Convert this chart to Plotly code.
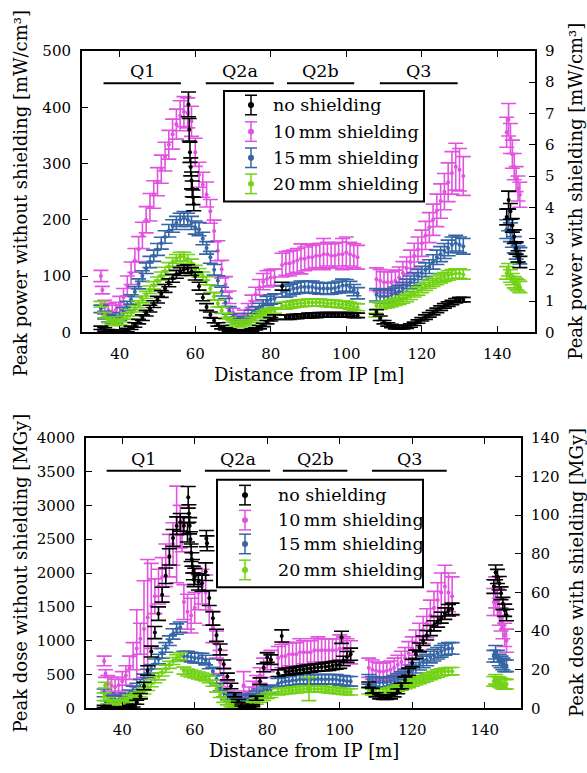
import plotly.graph_objects as go

# ---------------------------------------------------------------------------
# Sampling positions along the beam line (distance from IP in metres)
# ---------------------------------------------------------------------------
X_Q1 = [35, 36, 37, 38, 39, 40, 41, 42, 43, 44, 45, 46, 47, 48, 49, 50, 51, 52,
        53, 54, 55, 56, 57, 58, 59]
X_Q2A = [60, 61, 62, 63, 64, 65, 66, 67, 68, 69, 70, 71, 72, 73, 74, 75, 76, 77,
         78, 79, 80, 81]
X_Q2B = [83, 84, 85, 86, 87, 88, 89, 90, 91, 92, 93, 94, 95, 96, 97, 98, 99, 100,
         101, 102, 103]
X_Q3 = [108, 109, 110, 111, 112, 113, 114, 115, 116, 117, 118, 119, 120, 121, 122,
        123, 124, 125, 126, 127, 128, 129, 130, 131]
X_END = [142.5, 143, 143.5, 144, 144.5, 145, 145.5, 146]
X_ALL = X_Q1 + X_Q2A + X_Q2B + X_Q3 + X_END

SERIES_NAMES = ["no shielding", "10\u2009mm shielding", "15\u2009mm shielding",
                "20\u2009mm shielding"]
COLORS = ["#000000", "#e152df", "#3465a4", "#73d216"]

MAGNETS = ["Q1", "Q2a", "Q2b", "Q3"]
MAGNET_START = [35.7, 62.8, 84.3, 108.9]
MAGNET_END = [56.2, 80.8, 102.1, 129.5]

# ---------------------------------------------------------------------------
# Peak power density  (no shielding: mW/cm^3 on left axis, shielded: right axis)
# ---------------------------------------------------------------------------
POW_NONE = [8, 5, 3, 2, 1, 1, 2, 4, 8, 13, 19, 26, 34, 42, 50, 58, 68, 78, 88, 96,
            103, 108, 112, 113, 108,
            100, 82, 62, 45, 31, 21, 14, 9, 6, 4, 3, 2, 2, 2, 3, 4, 6, 9, 13, 18, 23, 27,
            82, 27, 27, 28, 28, 29, 29, 30, 30, 30, 31, 31, 31, 31, 31, 31, 31, 31, 31,
            30, 30,
            36, 25, 18, 14, 11, 9, 9, 9, 10, 12, 15, 19, 23, 27, 31, 35, 39, 43, 47, 50,
            53, 56, 58, 58,
            205, 235, 215, 190, 170, 150, 135, 125]
POW_NONE_ERR = [3, 3, 2, 2, 2, 2, 2, 3, 3, 4, 4, 5, 5, 6, 6, 6, 6, 7, 7, 7, 7, 7, 7, 7, 7,
                7, 7, 6, 6, 5, 4, 3, 3, 2, 2, 2, 2, 2, 2, 2, 2, 2, 3, 3, 3, 3, 4,
                7, 4, 4, 4, 4, 4, 4, 4, 4, 4, 4, 4, 4, 4, 4, 4, 4, 4, 4, 4, 4,
                4, 4, 3, 3, 3, 3, 3, 3, 3, 3, 3, 3, 3, 4, 4, 4, 4, 4, 4, 4, 4, 4, 4, 4,
                14, 16, 14, 12, 12, 11, 10, 10]
POW_NONE_XX = [58.2, 58.4, 58.6, 58.8, 59.0, 59.2, 59.4, 59.6]
POW_NONE_XY = [405, 360, 320, 294, 270, 255, 240, 228]
POW_NONE_XE = [22, 20, 18, 16, 15, 14, 13, 12]

POW_10 = [1.80, 0.80, 0.70, 0.65, 0.72, 0.90, 1.12, 1.48, 1.89, 2.30, 2.66, 3.10, 3.60,
          4.00, 4.41, 4.82, 5.22, 5.62, 6.00, 6.34, 6.66, 6.93, 7.06, 7.02, 6.75,
          5.76, 5.04, 4.72, 4.41, 3.87, 3.24, 2.61, 2.02, 1.53, 1.12, 0.63, 0.49, 0.43,
          0.58, 0.76, 0.99, 1.22, 1.44, 1.62, 1.71, 1.75, 1.76,
          2.15, 2.20, 2.20, 2.25, 2.30, 2.35, 2.35, 2.40, 2.40, 2.45, 2.45, 2.50, 2.50,
          2.45, 2.45, 2.50, 2.50, 2.55, 2.50, 2.45, 2.40,
          1.70, 1.65, 1.60, 1.60, 1.60, 1.65, 1.75, 1.90, 2.05, 2.25, 2.45, 2.65, 2.85,
          3.10, 3.35, 3.60, 3.90, 4.20, 4.50, 4.80, 5.10, 5.30, 5.20, 5.00,
          6.40, 6.80, 6.20, 5.70, 5.30, 4.90, 4.60, 4.40]
POW_10_ERR = [0.18, 0.22, 0.22, 0.22, 0.24, 0.25, 0.28, 0.32, 0.36, 0.38, 0.40, 0.42,
              0.42, 0.44, 0.44, 0.45, 0.45, 0.46, 0.46, 0.48, 0.48, 0.48, 0.48, 0.48, 0.48,
              0.45, 0.40, 0.40, 0.40, 0.38, 0.35, 0.32, 0.28, 0.25, 0.20, 0.14, 0.11,
              0.11, 0.13, 0.16, 0.20, 0.22, 0.25, 0.26, 0.26, 0.26, 0.26,
              0.38, 0.38, 0.40, 0.38, 0.38, 0.48, 0.38, 0.40, 0.38, 0.38, 0.40, 0.50,
              0.38, 0.38, 0.40, 0.38, 0.50, 0.50, 0.38, 0.38, 0.38,
              0.36, 0.36, 0.34, 0.34, 0.34, 0.34, 0.34, 0.36, 0.36, 0.38, 0.40, 0.40,
              0.42, 0.45, 0.48, 0.50, 0.52, 0.55, 0.58, 0.62, 0.68, 0.75, 0.68, 0.62,
              0.48, 0.52, 0.48, 0.45, 0.42, 0.40, 0.40, 0.40]
POW_10_XX = [35.4]
POW_10_XY = [1.35]
POW_10_XE = [0.12]

POW_15 = [0.75, 0.55, 0.45, 0.40, 0.42, 0.50, 0.65, 0.85, 1.05, 1.30, 1.55, 1.80, 2.05,
          2.25, 2.45, 2.65, 2.85, 3.05, 3.25, 3.40, 3.50, 3.60, 3.65, 3.60, 3.50,
          3.35, 3.30, 3.00, 2.70, 2.40, 2.00, 1.65, 1.30, 0.95, 0.70, 0.50, 0.40, 0.35,
          0.40, 0.50, 0.60, 0.70, 0.80, 0.90, 1.00, 1.05, 1.08,
          1.30, 1.30, 1.35, 1.40, 1.42, 1.45, 1.45, 1.45, 1.45, 1.42, 1.40, 1.40, 1.40,
          1.40, 1.42, 1.45, 1.50, 1.50, 1.45, 1.35, 1.25,
          1.20, 1.15, 1.15, 1.15, 1.20, 1.25, 1.30, 1.40, 1.50, 1.60, 1.70, 1.80, 1.90,
          2.00, 2.10, 2.25, 2.40, 2.50, 2.60, 2.70, 2.80, 2.85, 2.80, 2.75,
          3.30, 3.60, 3.20, 3.00, 2.80, 2.60, 2.50, 2.45]
POW_15_ERR = [0.12, 0.12, 0.12, 0.12, 0.12, 0.12, 0.14, 0.14, 0.15, 0.16, 0.16, 0.17,
              0.17, 0.18, 0.18, 0.19, 0.19, 0.20, 0.20, 0.20, 0.21, 0.21, 0.21, 0.21, 0.21,
              0.21, 0.21, 0.20, 0.20, 0.19, 0.17, 0.16, 0.14, 0.13, 0.12, 0.10, 0.09,
              0.09, 0.09, 0.10, 0.11, 0.12, 0.13, 0.14, 0.15, 0.15, 0.15,
              0.18, 0.18, 0.19, 0.18, 0.18, 0.19, 0.18, 0.18, 0.19, 0.18, 0.18, 0.18,
              0.19, 0.18, 0.18, 0.19, 0.20, 0.19, 0.18, 0.18, 0.18,
              0.20, 0.20, 0.20, 0.20, 0.20, 0.20, 0.20, 0.20, 0.20, 0.20, 0.21, 0.21,
              0.21, 0.22, 0.22, 0.23, 0.23, 0.24, 0.24, 0.25, 0.25, 0.25, 0.25, 0.25,
              0.30, 0.35, 0.30, 0.28, 0.26, 0.26, 0.26, 0.26]

POW_20 = [0.90, 0.55, 0.40, 0.32, 0.30, 0.33, 0.42, 0.52, 0.62, 0.75, 0.90, 1.05, 1.20,
          1.36, 1.50, 1.65, 1.80, 1.95, 2.10, 2.25, 2.35, 2.42, 2.42, 2.35, 2.20,
          2.00, 1.90, 1.80, 1.65, 1.40, 1.15, 0.92, 0.70, 0.52, 0.40, 0.32, 0.27, 0.25,
          0.28, 0.33, 0.40, 0.47, 0.55, 0.60, 0.65, 0.68, 0.70,
          0.85, 0.85, 0.88, 0.90, 0.92, 0.93, 0.94, 0.95, 0.95, 0.95, 0.95, 0.94, 0.93,
          0.92, 0.92, 0.90, 0.90, 0.88, 0.85, 0.82, 0.80,
          0.85, 0.85, 0.88, 0.90, 0.93, 0.97, 1.00, 1.05, 1.10, 1.17, 1.25, 1.32, 1.40,
          1.47, 1.54, 1.60, 1.66, 1.72, 1.77, 1.82, 1.86, 1.88, 1.88, 1.85,
          1.90, 2.00, 1.80, 1.70, 1.60, 1.55, 1.50, 1.45]
POW_20_ERR = [0.09, 0.09, 0.09, 0.09, 0.09, 0.09, 0.09, 0.10, 0.10, 0.10, 0.11, 0.11,
              0.11, 0.12, 0.12, 0.12, 0.13, 0.13, 0.13, 0.14, 0.14, 0.14, 0.14, 0.14, 0.14,
              0.14, 0.14, 0.13, 0.13, 0.12, 0.11, 0.11, 0.10, 0.09, 0.08, 0.08, 0.08,
              0.08, 0.08, 0.08, 0.08, 0.09, 0.09, 0.09, 0.09, 0.09, 0.09,
              0.11, 0.11, 0.11, 0.11, 0.11, 0.11, 0.11, 0.11, 0.11, 0.11, 0.11, 0.11,
              0.11, 0.11, 0.11, 0.11, 0.11, 0.11, 0.11, 0.11, 0.11,
              0.11, 0.11, 0.11, 0.11, 0.11, 0.11, 0.11, 0.12, 0.12, 0.12, 0.12, 0.13,
              0.13, 0.13, 0.13, 0.13, 0.14, 0.14, 0.14, 0.15, 0.15, 0.15, 0.15, 0.15,
              0.20, 0.20, 0.20, 0.18, 0.18, 0.18, 0.18, 0.18]
POW_20_XX = [107.8]
POW_20_XY = [0.55]
POW_20_XE = [0.06]

# ---------------------------------------------------------------------------
# Peak dose  (no shielding: MGy on left axis, shielded: right axis)
# ---------------------------------------------------------------------------
DOSE_NONE = [30, 15, 8, 5, 5, 8, 15, 30, 40, 90, 180, 330, 560, 840, 1120, 1400, 1680,
             1960, 2240, 2520, 2700, 2750, 2700, 2600, 2300,
             1950, 1870, 1850, 2020, 1630, 1330, 1080, 870, 650, 470, 330, 200, 110, 50,
             25, 20, 40, 150, 400, 600, 750, 720,
             520, 1070, 540, 545, 555, 560, 570, 575, 585, 590, 600, 605, 610, 615, 620,
             630, 640, 650, 700, 760, 800,
             350, 260, 200, 170, 160, 160, 170, 200, 250, 330, 420, 540, 670, 800, 900,
             1000, 1080, 1150, 1220, 1280, 1340, 1400, 1450, 1470,
             1800, 2010, 1950, 1850, 1700, 1550, 1450, 1380]
DOSE_NONE_ERR = [15, 12, 10, 10, 10, 10, 12, 15, 20, 30, 40, 55, 70, 80, 90, 100, 110,
                 115, 120, 125, 130, 130, 130, 140, 130,
                 120, 120, 120, 130, 110, 100, 90, 80, 65, 50, 40, 30, 20, 15, 12, 12, 15,
                 30, 50, 60, 70, 70,
                 50, 90, 50, 50, 50, 50, 50, 55, 55, 55, 55, 55, 55, 60, 60, 60, 60, 60,
                 70, 80, 90,
                 40, 35, 30, 30, 30, 30, 30, 30, 35, 40, 45, 50, 55, 60, 65, 70, 70, 75,
                 75, 80, 80, 85, 85, 85,
                 100, 110, 105, 100, 95, 90, 90, 85]
DOSE_NONE_XX = [58.2, 58.4, 58.6, 58.8, 59.2, 59.4, 59.6, 59.8, 63.2, 63.4, 100.5]
DOSE_NONE_XY = [3120, 2880, 2700, 2500, 2200, 2100, 2000, 1900, 2510, 2440, 1050]
DOSE_NONE_XE = [160, 130, 120, 110, 100, 100, 100, 100, 120, 110, 90]

DOSE_10 = [24.5, 13, 12, 11, 12, 14, 17, 21, 27, 31, 36, 41, 47, 53, 58, 63, 68, 74, 79,
           85, 90, 94, 55, 50, 48,
           52, 60, 63, 60, 52, 42, 33, 24, 16, 10, 6, 5, 4, 5, 6, 8, 10, 13, 17, 21, 24,
           25,
           26, 27, 27, 28, 28, 28, 29, 29, 29, 29, 30, 30, 30, 30, 30, 30, 30, 31, 31,
           30, 29,
           21, 20, 19.5, 19, 19, 19.5, 20, 21, 22.5, 24, 26, 28.5, 31, 34, 37, 40.5, 44,
           48, 52, 56, 60, 63, 60, 58,
           55, 60, 55, 50, 46, 42, 38, 35]
DOSE_10_ERR = [2.5, 4, 4, 4, 4, 5, 5, 6, 7, 20, 8, 25, 30, 22, 9, 9, 10, 11, 11, 11, 25,
               11, 9, 9, 9,
               8, 9, 9, 9, 9, 8, 7, 6, 5, 4, 3, 3, 3, 3, 3, 3, 4, 4, 4, 5, 5, 5,
               6, 6, 7, 6, 6, 6, 7, 6, 6, 6, 6, 7, 6, 6, 6, 6, 6, 7, 6, 6, 6,
               5, 5, 4.5, 4.5, 4.5, 4.5, 4.5, 5, 5, 5.5, 5.5, 6, 6, 6.5, 7, 7, 7.5, 8,
               8.5, 9, 10, 11, 10, 10,
               7, 8, 7, 7, 6, 6, 6, 6]
DOSE_10_XX = [35.4, 56.5, 73.5]
DOSE_10_XY = [18, 90, 12]
DOSE_10_XE = [2, 9, 7]

DOSE_15 = [8, 6, 5, 4.5, 4.5, 5, 6, 7.5, 9.5, 11, 13, 15.5, 18, 20.5, 23, 25.5, 28.5,
           31.5, 35, 38.5, 41, 42, 27, 27, 26.5,
           26, 26, 26, 25, 23, 19, 15, 11, 8, 6.5, 5.5, 5, 5, 5, 5, 5.5, 6, 7, 8, 9, 9.5,
           10,
           13, 13.5, 14, 14, 14.5, 14.5, 15, 15, 15, 15, 15, 15, 15, 15, 15, 15, 15,
           14.5, 14.5, 14, 14,
           15, 14, 13.5, 13.5, 13.5, 13.5, 14, 14.5, 15.5, 16.5, 17.5, 18.5, 19.5, 21,
           22.5, 24, 25, 26.5, 27.5, 28.5, 29.5, 30.5, 31, 31,
           27, 29, 27, 25, 24, 23, 22, 22]
DOSE_15_ERR = [2, 2, 1.8, 1.8, 1.8, 1.8, 1.8, 2, 2, 2, 2, 2.2, 2.2, 2.2, 2.5,
               2.5, 2.5, 2.5, 2.5, 2.7, 2.7, 2.7, 2.5, 2.5, 2.5,
               2.5, 2.5, 2.5, 2.5, 2.5, 2.2, 2.2, 2, 2, 1.8, 1.8, 1.8, 1.8, 1.8, 1.8, 1.8,
               1.8, 2, 2, 2, 2, 2,
               2.5, 2.5, 2.5, 2.5, 2.5, 2.5, 2.5, 2.5, 2.5, 2.5, 2.5, 2.5, 2.5, 2.5, 2.5,
               2.5, 2.5, 2.5, 2.5, 2.5, 2.5,
               2.5, 2.5, 2.5, 2.5, 2.5, 2.5, 2.5, 2.5, 2.5, 2.5, 2.5, 2.5, 2.7, 2.7, 2.7,
               3, 3, 3, 3, 3, 3, 3, 3, 3,
               3, 3.5, 3, 3, 3, 3, 3, 3]

DOSE_20 = [6, 4, 3, 2.5, 2.5, 3, 4, 5, 5.5, 6.5, 7.5, 9, 11, 13, 15, 16.5, 18.5, 20.5,
           22.5, 24.5, 26, 27, 19.5, 18.5, 18,
           17.5, 17, 16.5, 16, 15, 13, 10, 7, 4.5, 3, 2, 1.5, 1.2, 1.2, 1.5, 2, 2.5, 3.5,
           4.5, 5.5, 6.5, 7,
           8.5, 8.8, 9, 9.2, 9.4, 9.6, 9.8, 10, 10, 10, 10, 10, 10, 9.8, 9.6, 9.4, 9.2,
           9, 8.8, 8.6, 8.5,
           9, 8.5, 8.3, 8.3, 8.5, 8.8, 9.2, 9.7, 10.3, 11, 11.7, 12.4, 13.1, 13.8, 14.5,
           15.2, 15.9, 16.6, 17.3, 18, 18.6, 19, 19.2, 19.2,
           14, 15, 14, 13.5, 13, 12.5, 12.5, 12.5]
DOSE_20_ERR = [2, 1.6, 1.4, 1.4, 1.4, 1.4, 1.4, 1.6, 1.6, 1.6, 1.6, 1.6, 1.8, 1.8, 1.8,
               1.8, 1.8, 1.8, 1.8, 1.8, 1.8, 1.8, 1.8, 1.8, 1.8,
               1.8, 1.8, 1.8, 1.8, 1.8, 1.6, 1.6, 1.4, 1.4, 1.2, 1.2, 1.2, 1.2, 1.2, 1.2,
               1.2, 1.2, 1.4, 1.4, 1.4, 1.4, 1.4,
               1.6, 1.6, 1.6, 1.6, 1.6, 1.6, 1.6, 1.6, 1.6, 1.6, 1.6, 1.6, 1.6, 1.6, 1.6,
               1.6, 1.6, 1.6, 1.6, 1.6, 1.6,
               1.6, 1.6, 1.6, 1.6, 1.6, 1.6, 1.6, 1.6, 1.6, 1.6, 1.7, 1.7, 1.7, 1.7,
               1.8, 1.8, 1.8, 1.8, 1.9, 1.9, 1.9, 1.9, 1.9, 1.9,
               2.5, 2.5, 2.5, 2.5, 2.5, 2.5, 2.5, 2.5]
DOSE_20_XX = [35.3, 91.5]
DOSE_20_XY = [12, 10]
DOSE_20_XE = [1.5, 6]

for arr in (POW_NONE, POW_NONE_ERR, POW_10, POW_10_ERR, POW_15, POW_15_ERR, POW_20,
            POW_20_ERR, DOSE_NONE, DOSE_NONE_ERR, DOSE_10, DOSE_10_ERR, DOSE_15,
            DOSE_15_ERR, DOSE_20, DOSE_20_ERR):
    assert len(arr) == len(X_ALL), len(arr)

# ---------------------------------------------------------------------------
# Figure geometry
# ---------------------------------------------------------------------------
W, H = 587, 773
FONT = "DejaVu Serif"


def px(x):
    return x / W


def py(y):
    return 1 - y / H


fig = go.Figure()


def add_points(x, y, err, color, xa, ya):
    fig.add_trace(go.Scatter(
        x=x, y=y, mode="markers", xaxis=xa, yaxis=ya, showlegend=False,
        hoverinfo="skip", cliponaxis=True,
        marker=dict(color=color, size=4, line=dict(width=0)),
        error_y=dict(type="data", array=err, color=color, thickness=1.6, width=7.5),
    ))


# shielded series on the right-hand axes (drawn first), unshielded on top
add_points(X_ALL + POW_10_XX, POW_10 + POW_10_XY, POW_10_ERR + POW_10_XE, COLORS[1], "x", "y")
add_points(X_ALL, POW_15, POW_15_ERR, COLORS[2], "x", "y")
add_points(X_ALL + POW_20_XX, POW_20 + POW_20_XY, POW_20_ERR + POW_20_XE, COLORS[3], "x", "y")
add_points(X_ALL + POW_NONE_XX, POW_NONE + POW_NONE_XY, POW_NONE_ERR + POW_NONE_XE,
           COLORS[0], "x", "y2")

add_points(X_ALL + DOSE_10_XX, DOSE_10 + DOSE_10_XY, DOSE_10_ERR + DOSE_10_XE, COLORS[1], "x2", "y3")
add_points(X_ALL, DOSE_15, DOSE_15_ERR, COLORS[2], "x2", "y3")
add_points(X_ALL + DOSE_20_XX, DOSE_20 + DOSE_20_XY, DOSE_20_ERR + DOSE_20_XE, COLORS[3], "x2", "y3")
add_points(X_ALL + DOSE_NONE_XX, DOSE_NONE + DOSE_NONE_XY, DOSE_NONE_ERR + DOSE_NONE_XE,
           COLORS[0], "x2", "y4")

TICKFONT = dict(family=FONT, size=15, color="black")
common = dict(showline=True, linecolor="black", linewidth=2, ticks="inside", ticklen=6,
              tickwidth=1.3, tickcolor="black", showgrid=False, zeroline=False,
              tickfont=TICKFONT)

# panel frames (pixels): top 82..535 x 43..331, bottom 86..521 x 439..716
fig.update_layout(
    width=W, height=H, margin=dict(l=0, r=0, t=0, b=0),
    paper_bgcolor="white", plot_bgcolor="white", showlegend=False,
    xaxis=dict(domain=[px(82), px(535)], anchor="y", range=[30, 150],
               tickvals=[40, 60, 80, 100, 120, 140], mirror="ticks",
               ticklabelstandoff=7, **common),
    yaxis=dict(domain=[py(331), py(43)], anchor="x", side="right", range=[0, 9],
               dtick=1, ticklabelstandoff=5, **common),
    yaxis2=dict(anchor="x", overlaying="y", side="left", range=[0, 500], dtick=100,
                ticklabelstandoff=6, **common),
    xaxis2=dict(domain=[px(86), px(521)], anchor="y3", range=[30, 150],
                tickvals=[40, 60, 80, 100, 120, 140], mirror="ticks",
                ticklabelstandoff=7, **common),
    yaxis3=dict(domain=[py(716), py(439)], anchor="x2", side="right", range=[0, 140],
                dtick=20, ticklabelstandoff=5, **common),
    yaxis4=dict(anchor="x2", overlaying="y3", side="left", range=[0, 4000], dtick=500,
                ticklabelstandoff=6, **common),
)

TITLE = dict(family=FONT, size=18, color="black")
TXT = dict(family=FONT, size=17.5, color="black")
annotations = []
shapes = []

# axis titles
annotations += [
    dict(text="Distance from IP [m]", x=px(308.5), y=py(374), xref="paper", yref="paper",
         showarrow=False, font=TITLE, xanchor="center", yanchor="middle"),
    dict(text="Peak power without shielding [mW/cm³]", x=px(21), y=py(189), xref="paper",
         yref="paper", showarrow=False, font=TITLE, textangle=-90, xanchor="center",
         yanchor="middle"),
    dict(text="Peak power with shielding [mW/cm³]", x=px(576), y=py(187), xref="paper",
         yref="paper", showarrow=False, font=TITLE, textangle=-90, xanchor="center",
         yanchor="middle"),
    dict(text="Distance from IP [m]", x=px(303.5), y=py(759), xref="paper", yref="paper",
         showarrow=False, font=TITLE, xanchor="center", yanchor="middle"),
    dict(text="Peak dose without shielding [MGy]", x=px(21), y=py(578), xref="paper",
         yref="paper", showarrow=False, font=TITLE, textangle=-90, xanchor="center",
         yanchor="middle"),
    dict(text="Peak dose with shielding [MGy]", x=px(576), y=py(577.5), xref="paper",
         yref="paper", showarrow=False, font=TITLE, textangle=-90, xanchor="center",
         yanchor="middle"),
]

# magnet labels with their extent bars
for xa, line_y, label_y in (("x", 76, 63), ("x2", 472.7, 461)):
    for name, x0, x1 in zip(MAGNETS, MAGNET_START, MAGNET_END):
        shapes.append(dict(type="line", xref=xa, yref="paper", x0=x0, x1=x1,
                           y0=py(line_y), y1=py(line_y),
                           line=dict(color="black", width=2)))
        annotations.append(dict(text=name, x=(x0 + x1) / 2, y=py(label_y), xref=xa,
                                yref="paper", showarrow=False, font=TXT,
                                xanchor="center", yanchor="middle"))


# legends drawn as framed boxes with error-bar glyphs
def legend(box, rows, gx, tx):
    x0, y0, x1, y1 = box
    shapes.append(dict(type="rect", xref="paper", yref="paper", x0=px(x0), x1=px(x1),
                       y0=py(y1), y1=py(y0), fillcolor="white", layer="above",
                       line=dict(color="black", width=2)))
    for name, color, ry in zip(SERIES_NAMES, COLORS, rows):
        ln = dict(color=color, width=1.5)
        shapes.append(dict(type="line", xref="paper", yref="paper", x0=px(gx), x1=px(gx),
                           y0=py(ry + 10), y1=py(ry - 10), line=ln, layer="above"))
        for cy in (ry - 10, ry + 10):
            shapes.append(dict(type="line", xref="paper", yref="paper", x0=px(gx - 6),
                               x1=px(gx + 6), y0=py(cy), y1=py(cy), line=ln,
                               layer="above"))
        shapes.append(dict(type="circle", xref="paper", yref="paper", x0=px(gx - 3),
                           x1=px(gx + 3), y0=py(ry + 3), y1=py(ry - 3), fillcolor=color,
                           line=dict(width=0), layer="above"))
        annotations.append(dict(text=name, x=px(tx), y=py(ry), xref="paper", yref="paper",
                                showarrow=False, font=TXT, xanchor="left",
                                yanchor="middle"))


legend((224, 84, 424, 197), [98.3, 125.5, 152.3, 179], 251, 271)
legend((217, 482, 423, 592), [497.7, 523.3, 547.7, 574.3], 245, 276)

fig.update_layout(annotations=annotations, shapes=shapes)
fig.write_html("out.html")
